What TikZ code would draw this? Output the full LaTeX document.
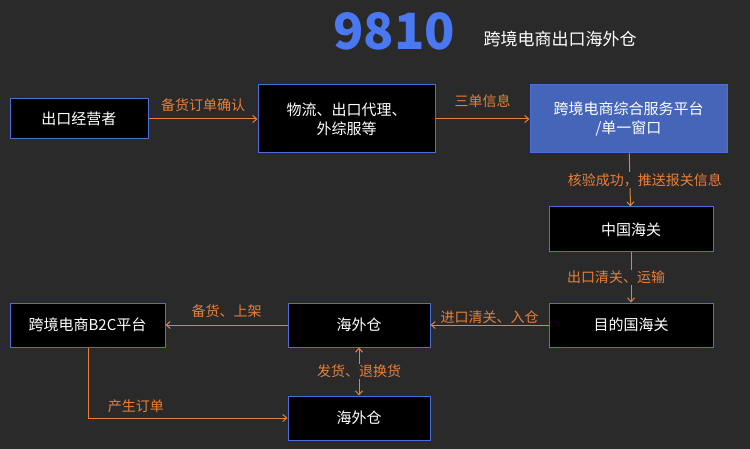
\documentclass[tikz,border=0pt]{standalone}
\usepackage{fontspec}
\setmainfont{Noto Sans CJK SC}
\usetikzlibrary{arrows.meta}
\definecolor{bg}{HTML}{2A2A2A}
\definecolor{bord}{HTML}{4A6FD8}
\definecolor{org}{HTML}{E8803A}
\definecolor{ttl}{HTML}{4A78F0}
\definecolor{plat}{HTML}{4565B8}
\begin{document}
\begin{tikzpicture}[x=1pt,y=-1pt,
  box/.style={draw=bord,line width=1pt,fill=black,text=white,font=\fontsize{15}{19}\selectfont,align=center,inner sep=0pt},
  arr/.style={draw=org,line width=1pt,-{Straight Barb[length=4pt,width=7pt]}},
  lab/.style={text=org,font=\fontsize{14}{16}\selectfont,inner sep=1pt}]
\fill[bg] (0,0) rectangle (750,449);
\useasboundingbox (0,0) rectangle (750,449);
\node[text=ttl,font=\fontsize{50}{54}\bfseries\selectfont] (t) at (394,31) {9810};
\node[text=white,font=\fontsize{17}{20}\selectfont,anchor=west] (t2) at (480,39) {跨境电商出口海外仓};
\node[box,minimum width=138pt,minimum height=40pt] (a) at (79,119) {出口经营者};
\node[box,minimum width=177pt,minimum height=68pt] (b) at (346.5,119) {物流、出口代理、\\外综服等};
\node[box,fill=plat,minimum width=197pt,minimum height=68pt] (c) at (628.5,119) {跨境电商综合服务平台\\/单一窗口};
\node[box,minimum width=164pt,minimum height=45pt] (d) at (631,229.5) {中国海关};
\node[box,minimum width=164pt,minimum height=44pt] (e) at (631,325) {目的国海关};
\node[box,minimum width=142pt,minimum height=44pt] (f) at (359,325) {海外仓};
\node[box,minimum width=155pt,minimum height=44pt] (g) at (87.5,325) {跨境电商B2C平台};
\node[box,minimum width=142pt,minimum height=44pt] (h) at (359,418) {海外仓};
\draw[arr] (a) -- (b) node[lab,midway,above=6pt] {备货订单确认};
\draw[arr] (b) -- (c) node[lab,midway,above=10pt] {三单信息};
\draw[arr] (c) -- (d) node[lab,midway,fill=bg,xshift=15pt] {核验成功，推送报关信息};
\draw[arr] (d) -- (e) node[lab,midway,fill=bg,xshift=-15pt] {出口清关、运输};
\draw[arr] (e) -- (f) node[lab,midway,above=0pt] {进口清关、入仓};
\draw[arr] (f) -- (g) node[lab,midway,above=6pt] {备货、上架};
\draw[arr,{Straight Barb[length=4pt,width=7pt]}-{Straight Barb[length=4pt,width=7pt]}] (f) -- (h) node[lab,midway,fill=bg] {发货、退换货};
\draw[arr] (g.south -| 88,0) |- (h.west) node[lab,pos=0.62,above=4pt] {产生订单};
\end{tikzpicture}
\end{document}
